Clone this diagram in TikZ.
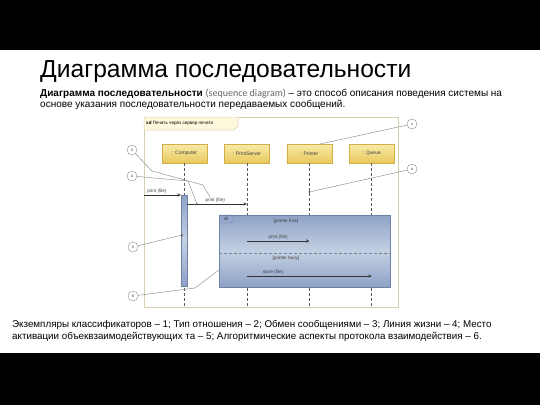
\documentclass[tikz,border=0pt]{standalone}
\usepackage{fontspec}
\setmainfont{Liberation Sans}
\newfontfamily\calfont{Carlito}
\usetikzlibrary{positioning,arrows.meta}
\tikzset{>=stealth}

\definecolor{headtop}{HTML}{F8EBA8}
\definecolor{headbot}{HTML}{E9C85E}
\definecolor{headline}{HTML}{D2AE48}
\definecolor{framecol}{HTML}{D8D0AC}
\definecolor{tabfill}{HTML}{FDF9DC}
\definecolor{altdark}{HTML}{8EA2C8}
\definecolor{altlight}{HTML}{C4D0E2}
\definecolor{altline}{HTML}{6F83A8}
\definecolor{pointgray}{HTML}{8C8C8C}

\tikzset{
  lifehead/.style={draw=headline, top color=headtop, bottom color=headbot,
    minimum width=45pt, minimum height=19pt, inner sep=0pt,
    font=\fontsize{5}{6}\selectfont, text=black!75},
  lifeline/.style={draw=black!65, dash pattern=on 3pt off 2pt, line width=0.5pt},
  msg/.style={->, draw=black!80, line width=0.5pt},
  msglabel/.style={font=\fontsize{4.6}{5}\selectfont, text=black!75, inner sep=1pt},
  callout/.style={circle, draw=pointgray, fill=white, minimum size=10pt,
    inner sep=0pt, font=\fontsize{3.5}{4}\selectfont},
  pointer/.style={draw=pointgray, line width=0.45pt},
  dotmark/.style={circle, fill=black!70, inner sep=0pt, minimum size=2pt}
}

\begin{document}
\begin{tikzpicture}[x=1pt, y=-1pt]
    \useasboundingbox (0,0) rectangle (540,405);
    \fill[white] (0,0) rectangle (540,405);
    \fill[black] (0,0) rectangle (540,50);
    \fill[black] (0,353) rectangle (540,405);

    \node (title) [anchor=base west, inner sep=0pt, font=\fontsize{24.6}{28}\selectfont]
        at (40,77) {Диаграмма последовательности};
    % base of a two-line node is the last line
    \node (intro) [anchor=base west, inner sep=0pt, align=left,
        font=\fontsize{10}{10.6}\selectfont] at (40,107)
        {\textbf{Диаграмма последовательности} {\calfont\color{black!60}(sequence diagram)}
         – это способ описания поведения системы на\\
         основе указания последовательности передаваемых сообщений.};

    % frame of the diagram
    \coordinate (frame nw) at (144,117);
    \coordinate (frame se) at (398,307);
    \draw[framecol, line width=0.8pt] (frame nw) rectangle (frame se);
    \draw[framecol, fill=tabfill, line width=0.5pt]
        (frame nw) -- (238,117) -- (238,126) -- (234,130) -- (144,130) -- cycle;
    \node (sd) [anchor=west, font=\fontsize{4.6}{5}\selectfont, inner sep=0pt]
        at (146,123.5) {\textbf{sd} Печать через сервер печати};

    % lifelines
    \node (computer) [lifehead] at (184.5,153.5) {: Computer};
    \node (server) [lifehead, right=17pt of computer] {: PrintServer};
    \node (printer) [lifehead, right=17pt of server] {: Printer};
    \node (queue) [lifehead, right=17pt of printer] {: Queue};
    \foreach \obj in {computer, server, printer, queue}
        \draw[lifeline] (\obj.south) -- (\obj.south |- frame se);

    % combined fragment
    \coordinate (alt nw) at (219,215);
    \coordinate (alt se) at (390,287);
    \shade[top color=altdark, bottom color=altdark, middle color=altlight]
        (alt nw) rectangle (alt se);
    \draw[altline, line width=0.5pt] (alt nw) rectangle (alt se);
    \draw[altline, line width=0.4pt] (alt nw) -- (233,215) -- (233,221) -- (231,223) -- (219,223);
    \node (alt) [msglabel, anchor=center] at (226,219) {alt};
    \draw[lifeline, draw=altline] (alt nw |- 0,253) -- (alt se |- 0,253);
    \node (free) [msglabel] at (286,221) {[printer free]};
    \node (busy) [msglabel] at (286,258) {[printer busy]};

    % activation
    \node (act) [draw=altline, top color=altdark, bottom color=altdark, middle color=altlight,
        minimum width=6pt, minimum height=91pt, inner sep=0pt] at (184,240.5) {};

    % messages
    \coordinate (found) at (frame nw |- 0,195);
    \draw[msg] (found) -- (act.west |- found) node[msglabel, pos=0.35, above] {print (file)};
    \coordinate (m2 start) at (act.east |- 0,204);
    \coordinate (m2 end) at (server.south |- m2 start);
    \draw[msg] (m2 start) -- (m2 end) node[msglabel, pos=0.47, above] (m2 label) {print (file)};
    \coordinate (m3 start) at (server.south |- 0,241);
    \draw[msg] (m3 start) -- (printer.south |- m3 start) node[msglabel, midway, above] {print (file)};
    \coordinate (m4 start) at (server.south |- 0,276);
    \draw[msg] (m4 start) -- (queue.south |- m4 start) node[msglabel, pos=0.21, above] {store (file)};

    % callouts
    \node (c1) [callout] at (412,124) {1};
    \node (c2) [callout] at (132,176) {2};
    \node (c3) [callout] at (132,150) {3};
    \node (c4) [callout] at (412,169) {4};
    \node (c5) [callout] at (133,247) {5};
    \node (c6) [callout] at (133,296) {6};
    \node (d2) [dotmark] at (197,204) {};
    \node (d4) [dotmark] at (printer.south |- 0,192) {};
    \node (d5) [dotmark] at (182,235) {};
    \coordinate (t1) at (320,144);
    \draw[pointer] (c1) -- (t1);
    \draw[pointer] (c2) -- (188,181) -- (d2);
    \draw[pointer] (c3) -- (152,171) -- (203,185) -- (210,197);
    \draw[pointer] (c4) -- (d4);
    \draw[pointer] (c5) -- (d5);
    \draw[pointer] (c6) -- (195,288) -- (alt nw |- 0,270);

    \node (legend) [anchor=base west, inner sep=0pt, align=left,
        font=\fontsize{9.8}{12}\selectfont] at (12,339)
        {Экземпляры классификаторов – 1; Тип отношения – 2; Обмен сообщениями – 3; Линия жизни – 4; Место\\
         активации объеквзаимодействующих та – 5; Алгоритмические аспекты протокола взаимодействия – 6.};
\end{tikzpicture}
\end{document}
